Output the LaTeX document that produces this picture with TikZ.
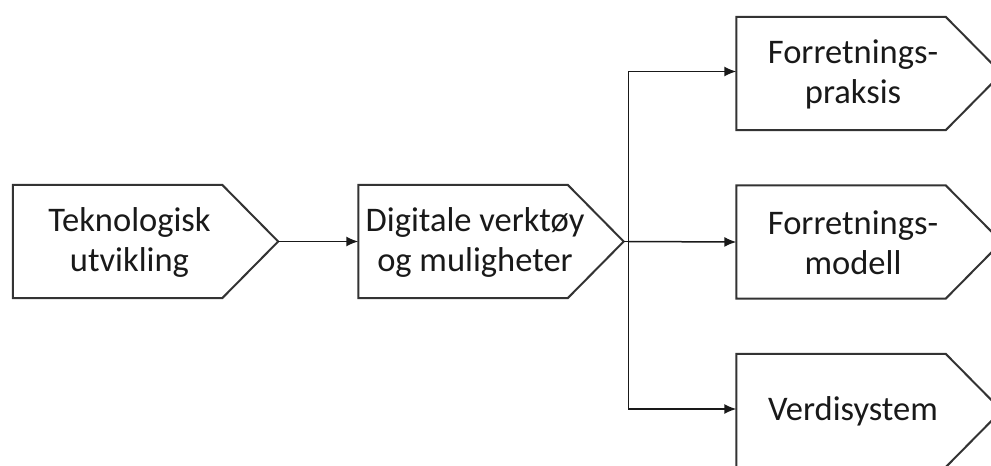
\documentclass[tikz,border=0pt]{standalone}
\usepackage{fontspec}
\setmainfont{Carlito}
\usetikzlibrary{arrows.meta,calc}
\begin{document}
\begin{tikzpicture}[x=1pt,y=-1pt,
  rectpart/.style={draw=none, minimum width=209pt, minimum height=113pt, inner sep=0pt},
  outline/.style={draw=black!80, line width=2pt, line join=miter},
  boxtext/.style={font=\fontsize{34.5}{40}\selectfont, align=center, text=black!90, inner sep=0pt},
  conn/.style={draw=black!90, line width=1.5pt},
  arr/.style={conn, -{Latex[length=12pt,width=10pt]}}]
  \useasboundingbox (0,0) rectangle (991,466);
  % process arrows: rectangle part plus a 45-degree pointer on the right
  \newcommand{\procbox}[4]{%
    \node[rectpart] (#1) at (#2,#3) {};
    \draw[outline] (#1.north west) -- (#1.north east) -- ($(#1.east)+(56,0)$) coordinate (#1tip)
      -- (#1.south east) -- (#1.south west) -- cycle;
    \node[boxtext] (#1txt) at ($(#1.center)+(12,1)$) {#4};}
  \procbox{tek}{117.5}{241.5}{Teknologisk\\utvikling}
  \procbox{dig}{463}{241.5}{Digitale verktøy\\og muligheter}
  \procbox{prak}{841}{73.5}{Forretnings-\\praksis}
  \procbox{mod}{841}{242}{Forretnings-\\modell}
  \procbox{verd}{841}{410.5}{Verdisystem}
  % connectors
  \coordinate (split) at (628.5,241.5);
  \draw[arr] (tektip) -- (dig.west);
  \draw[conn] (digtip) -- (split);
  \draw[arr] (split) |- ([yshift=2pt]prak.west);
  \draw[arr] (split) -- (mod.west);
  \draw[arr] (split) |- ([yshift=1.5pt]verd.west);
\end{tikzpicture}
\end{document}
